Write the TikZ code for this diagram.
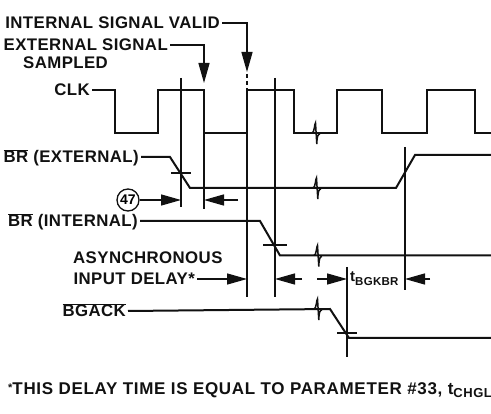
\documentclass[tikz,border=0pt]{standalone}
\usepackage{fontspec}
\setmainfont{Liberation Sans}
\newfontfamily\lblfont[LetterSpace=2.5]{Liberation Sans}
\newfontfamily\notefont[LetterSpace=4]{Liberation Sans}
\usetikzlibrary{arrows.meta, positioning}
\definecolor{InkBlack}{HTML}{111111}
\tikzset{
  wave/.style={draw=InkBlack, line width=2pt, line join=miter},
  refline/.style={draw=InkBlack, line width=1.3pt},
  dashref/.style={draw=InkBlack, line width=1.3pt, dash pattern=on 4pt off 3pt},
  crossmark/.style={draw=InkBlack, line width=1.5pt},
  sig/.style={font=\lblfont\bfseries\fontsize{16.8}{18}\selectfont, text=InkBlack, inner xsep=2pt, inner ysep=0pt, text height=12pt, text depth=0pt},
  dimarrow/.style={-{Triangle[length=20pt, width=11pt]}, draw=InkBlack, line width=1.3pt},
  squig/.pic={\draw[wave, line width=1.5pt] (-4,0) .. controls (-1.5,0) and (-1.5,-10) .. (-0.5,-10) -- (0.8,11) .. controls (1,3) and (2,1) .. (4,1);}
}
\begin{document}
\begin{tikzpicture}[x=1pt, y=-1pt]
\useasboundingbox (0,0) rectangle (491,414);
% labels
\node[sig, anchor=east] (valid) at (222,23) {INTERNAL SIGNAL VALID};
\node[sig, anchor=east] (sampled) at (170,45) {EXTERNAL SIGNAL};
\node[sig, anchor=base west] (sampledb) at (21,68.5) {SAMPLED};
\node[sig, anchor=east] (clk) at (92,90) {CLK};
\node[sig, anchor=east] (brext) at (141,157) {$\overline{\hbox{BR}}$ (EXTERNAL)};
\node[sig, anchor=east] (brint) at (140,221) {$\overline{\hbox{BR}}$ (INTERNAL)};
\node[sig, anchor=base west] (async) at (71,263.5) {ASYNCHRONOUS};
\node[sig, anchor=east] (delay) at (197,279) {INPUT DELAY*};
\node[sig, anchor=east] (bgack) at (128,311) {$\overline{\hbox{BGACK}}$};
% time references
\coordinate (ta) at (181,78);
\coordinate (tb) at (204,133);
\coordinate (tc) at (247,133);
\coordinate (td) at (275,78);
\coordinate (te) at (347,267);
\coordinate (tf) at (405,147);
\draw[refline] (ta) -- (181,207);
\draw[refline] (tb) -- (204,209);
\draw[refline] (tc) -- (247,297);
\draw[dashref] (247,74) -- (247,90);
\draw[refline] (td) -- (275,297);
\draw[refline] (te) -- (347,357);
\draw[refline] (tf) -- (405,290);
% clock
\draw[wave] (clk.east) -- (115,90) -- (115,133) -- (158,133) -- (158,90) -- (204,90) -- (204,133)
  -- (247,133) -- (247,90) -- (294,90) -- (294,133) -- (337,133) -- (337,90) -- (382,90)
  -- (382,133) -- (427,133) -- (427,90) -- (475,90) -- (475,133) -- (491,133);
\pic at (316,133) {squig};
% bus request external
\draw[wave] (brext.east) -- (170,157) -- (190,188) -- (396,188) -- (415,155) -- (491,155);
\pic at (317,188) {squig};
\draw[crossmark] (171,173) -- (191,173);
% bus request internal
\draw[wave] (brint.east) -- (260,221) -- (280,255.5) -- (491,255.5);
\pic at (318,255.5) {squig};
\draw[crossmark] (263,245) -- (287,245);
% bus grant acknowledge
\draw[wave] (bgack.east) -- (330,309) -- (349,338) -- (491,338);
\pic at (318,309) {squig};
\draw[crossmark] (337,333) -- (357,333);
% event arrows
\coordinate (validtip) at (247,72);
\coordinate (samptip) at (204,83);
\draw[dimarrow] (valid.east) -| (validtip);
\draw[dimarrow] (sampled.east) -| (samptip);
% setup 47
\node[circle, draw=InkBlack, line width=1.3pt, minimum size=22pt, inner sep=0pt,
  font=\bfseries\fontsize{14}{14}\selectfont] (p47) at (128,200) {47};
\coordinate (gapr) at (238,200);
\draw[dimarrow] (p47.east) -- (p47.east -| ta);
\draw[dimarrow] (gapr) -- (gapr -| tb);
% delays
\coordinate (rd) at (302,279);
\coordinate (re) at (317,279);
\coordinate (rf) at (430,279);
\draw[dimarrow] (delay.east) -- (delay.east -| tc);
\draw[dimarrow] (rd) -- (rd -| td);
\draw[dimarrow] (re) -- (re -| te);
\draw[dimarrow] (rf) -- (rf -| tf);
\node[anchor=base west, inner sep=0pt, text=InkBlack, font=\lblfont\bfseries\fontsize{15}{15}\selectfont]
  (tbgkbr) at (350,281.7) {t\raisebox{-3.5pt}{\fontsize{11.5}{11.5}\selectfont BGKBR}};
% note
\node[sig, font=\notefont\bfseries\fontsize{17}{18}\selectfont, anchor=base west] (note) at (6,395)
  {\raisebox{3pt}{\fontsize{11}{11}\selectfont *}THIS DELAY TIME IS EQUAL TO PARAMETER \#33, t\raisebox{-3pt}{\fontsize{13}{13}\selectfont CHGL}};
\end{tikzpicture}
\end{document}
